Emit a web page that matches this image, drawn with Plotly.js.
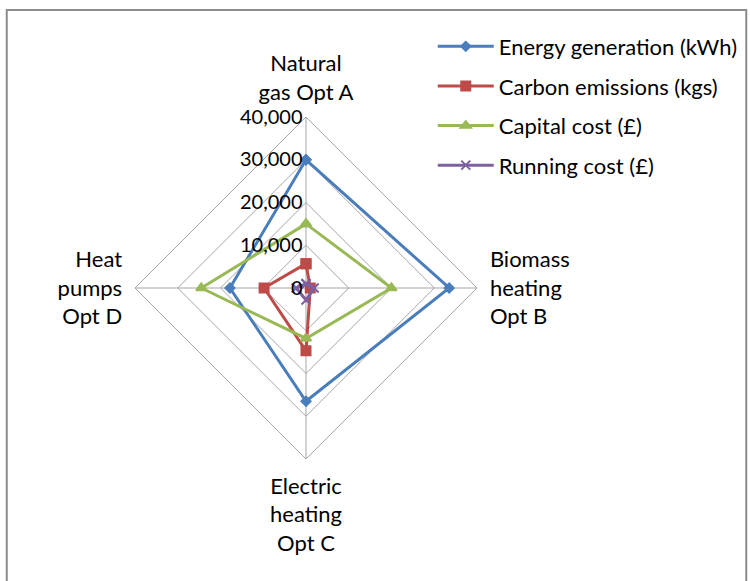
<!DOCTYPE html>
<html>
<head>
<meta charset="utf-8">
<script src="https://cdn.plot.ly/plotly-3.0.1.min.js"></script>
<style>html,body{margin:0;padding:0;background:#fff;}#chart{width:750px;height:581px;}</style>
</head>
<body>
<div id="chart"></div>
<script>
const categories = ["Natural<br>gas Opt A", "Biomass<br>heating<br>Opt B", "Electric<br>heating<br>Opt C", "Heat<br>pumps<br>Opt D"];
const seriesNames = ["Energy generation (kWh)", "Carbon emissions (kgs)", "Capital cost (£)", "Running cost (£)"];
const energyGeneration = [30000, 33500, 26500, 17800];
const carbonEmissions = [5700, 1000, 14700, 9800];
const capitalCost = [15000, 20000, 11800, 24500];
const runningCost = [1000, 1900, 2800, 2300];
const radialTicks = [0, 10000, 20000, 30000, 40000];

const colors = ["#4a7ebb", "#be4b48", "#98b954", "#7d60a0"];
const symbols = ["diamond", "square", "triangle-up", "x-thin-open"];
const sizes = [7, 9, 9, 9];
const allValues = [energyGeneration, carbonEmissions, capitalCost, runningCost];

const traces = allValues.map((vals, i) => ({
  type: "scatterpolar",
  mode: "lines+markers",
  name: seriesNames[i],
  r: vals.concat([vals[0]]),
  theta: categories.concat([categories[0]]),
  line: {color: colors[i], width: 3},
  marker: {color: colors[i], symbol: symbols[i], size: sizes[i], line: {color: colors[i], width: 2}},
  legendgroup: "g" + i,
  cliponaxis: false
}));

const font = {family: "Lato, 'Open Sans', sans-serif", size: 22, color: "#000"};
const tickFont = {family: "Lato, 'Open Sans', sans-serif", size: 20, color: "#000"};

const layout = {
  width: 750, height: 581,
  margin: {l: 0, r: 0, t: 0, b: 0},
  paper_bgcolor: "#fff",
  font: font,
  showlegend: true,
  legend: {x: 0.577, y: 0.956, xanchor: "left", yanchor: "top", font: font, tracegroupgap: 8, itemwidth: 56, bgcolor: "rgba(0,0,0,0)"},
  polar: {
    domain: {x: [0.18, 0.636], y: [0.21, 0.7986]},
    gridshape: "linear",
    bgcolor: "rgba(0,0,0,0)",
    radialaxis: {
      range: [0, 40000], tickvals: radialTicks, tickformat: ",d",
      angle: 90, side: "counterclockwise", showline: false, ticks: "",
      gridcolor: "#a6a6a6", gridwidth: 1, tickfont: tickFont, tickangle: 90
    },
    angularaxis: {
      rotation: 90, direction: "clockwise", type: "category",
      categoryarray: categories,
      gridcolor: "#a6a6a6", linecolor: "#a6a6a6", linewidth: 1,
      ticks: "outside", ticklen: 8, tickcolor: "rgba(0,0,0,0)", tickfont: font
    }
  },
  shapes: [{type: "rect", xref: "paper", yref: "paper", x0: 0.009, x1: 0.995, y0: -0.05, y1: 0.983, line: {color: "#8c8c8c", width: 2}}]
};

Plotly.newPlot("chart", traces, layout, {displayModeBar: false, staticPlot: true});
</script>
</body>
</html>
